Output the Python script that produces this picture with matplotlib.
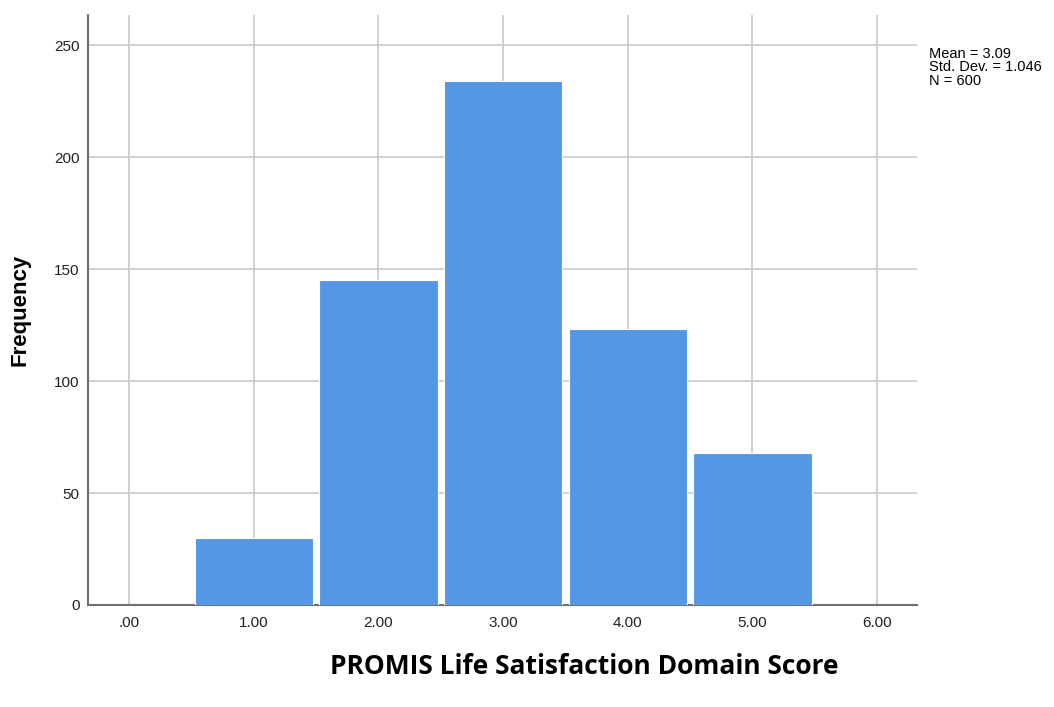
import matplotlib.pyplot as plt

scores = [1, 2, 3, 4, 5]
counts = [30, 145, 234, 123, 68]
xticks = [0, 1, 2, 3, 4, 5, 6]
xticklabels = ['.00', '1.00', '2.00', '3.00', '4.00', '5.00', '6.00']
yticks = [0, 50, 100, 150, 200, 250]
stats = 'Mean = 3.09\nStd. Dev. = 1.046\nN = 600'

plt.rcParams['font.family'] = ['Liberation Sans', 'DejaVu Sans']

fig = plt.figure(figsize=(10.54, 7.07), dpi=100)
ax = fig.add_axes([88 / 1054, 1 - 605 / 707, (917 - 88) / 1054, (605 - 15) / 707])

ax.bar(scores, counts, width=0.95, color='#5596e6', edgecolor='white', linewidth=0.8, zorder=3)

ax.set_xlim(-0.33, 6.32)
ax.set_ylim(0, 263.4)
ax.set_xticks(xticks)
ax.set_xticklabels(xticklabels)
ax.set_yticks(yticks)
ax.tick_params(length=0, labelsize=11, colors='#222222')
ax.tick_params(axis='x', pad=8)
ax.tick_params(axis='y', pad=6)
ax.grid(True, color='#c8c8c8', linewidth=1.2, zorder=0)

for side in ['top', 'right']:
    ax.spines[side].set_visible(False)
for side in ['left', 'bottom']:
    ax.spines[side].set_color('#707070')
    ax.spines[side].set_linewidth(1.5)

fig.text(20 / 1054, 1 - 310 / 707, 'Frequency', rotation=90, ha='center', va='center',
         fontsize=16, fontweight='bold')
fig.text(584 / 1054, 1 - 666 / 707, 'PROMIS Life Satisfaction Domain Score',
         ha='center', va='center', fontsize=19, fontweight='bold', family=['Open Sans', 'DejaVu Sans'])
fig.text(929 / 1054, 1 - 47 / 707, stats, ha='left', va='top', fontsize=10.5, linespacing=0.95)

plt.savefig('out.png', dpi=100)
